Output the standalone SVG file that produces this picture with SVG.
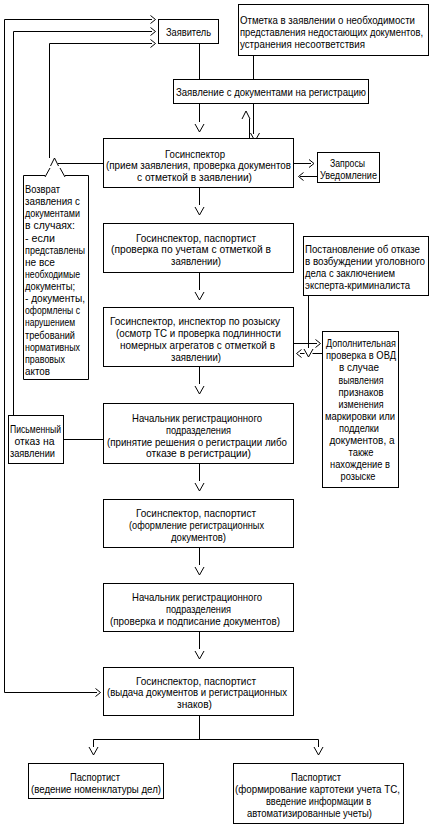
<svg xmlns="http://www.w3.org/2000/svg" xmlns:xlink="http://www.w3.org/1999/xlink" width="444" height="833" viewBox="0 0 444 833">
<style>
.b{fill:#fff;stroke:#000;stroke-width:1}
.c{fill:none;stroke:#000;stroke-width:1}
text{font-family:"Liberation Sans","DejaVu Sans",sans-serif;font-size:11px;fill:#000}
.m{text-anchor:middle}
.s{font-size:10.2px}
</style>
<defs>
<path id="ar" class="c" d="M-5,-4 L0,0 L-5,4"/>
<path id="al" class="c" d="M5,-4 L0,0 L5,4"/>
<path id="ad" class="c" d="M-4.5,-8 L0,0 L4.5,-8"/>
<path id="au" class="c" d="M-4,8 L0,0 L4,8"/>
</defs>
<rect width="444" height="833" fill="#fff"/>
<g id="connectors">
<path class="c" d="M4.5,692.5 V19.5 H152"/>
<path class="c" d="M13.5,415.5 V31.5 H152"/>
<path class="c" d="M49.5,158 V43.5 H152"/>
<path class="c" d="M4.5,692.5 H97"/>
<path class="c" d="M199.5,43.5 V79.5 M253.5,55.5 V79.5"/>
<path class="c" d="M199.5,103.5 V122 M253.5,103.5 V134 M249.5,119 V138.5"/>
<path class="c" d="M293.5,163.5 H311 M317.5,176.5 H300"/>
<path class="c" d="M103.5,163.5 H58"/>
<path class="c" d="M45,177 L50,168 M60,168 L65,177"/>
<path class="c" d="M199.5,187.5 V205 M199.5,272.5 V290 M199.5,366.5 V384 M199.5,463.5 V481 M199.5,547.5 V565 M199.5,631.5 V649"/>
<path class="c" d="M308.5,295.5 V348 M293.5,343.5 H317 M322.5,353.5 H312.5 M304.5,353.5 H300"/>
<path class="c" d="M63.5,439.5 H103.5"/>
<path class="c" d="M199.5,715.5 V739.5 M93.5,747 V739.5 H318.5 V747"/>
<use xlink:href="#ar" x="155.5" y="19.5"/>
<use xlink:href="#ar" x="155.5" y="31.5"/>
<use xlink:href="#ar" x="155.5" y="43.5"/>
<use xlink:href="#ar" x="100.5" y="692.5"/>
<use xlink:href="#ar" x="314" y="163.5"/>
<use xlink:href="#ar" x="320.5" y="343.5"/>
<use xlink:href="#al" x="298.5" y="176.5"/>
<use xlink:href="#al" x="296.5" y="353.5"/>
<use xlink:href="#ad" x="199.5" y="132"/>
<use xlink:href="#ad" x="255" y="141"/>
<use xlink:href="#ad" x="199.5" y="215"/>
<use xlink:href="#ad" x="199.5" y="300"/>
<use xlink:href="#ad" x="199.5" y="394"/>
<use xlink:href="#ad" x="199.5" y="491"/>
<use xlink:href="#ad" x="199.5" y="575"/>
<use xlink:href="#ad" x="199.5" y="659"/>
<use xlink:href="#ad" x="93.5" y="755"/>
<use xlink:href="#ad" x="318.5" y="755"/>
<use xlink:href="#ad" x="308.5" y="357"/>
<use xlink:href="#au" x="246" y="111"/>
<use xlink:href="#au" x="54.5" y="158"/>
</g>
<g id="n-zayavitel">
<rect class="b" x="158.5" y="19.5" width="60" height="24"/>
<text x="166" y="36" textLength="45" lengthAdjust="spacingAndGlyphs">Заявитель</text>
</g>
<g id="n-otmetka">
<rect class="b" x="238.5" y="4.5" width="190" height="51"/>
<text x="240" y="24" textLength="175" lengthAdjust="spacingAndGlyphs">Отметка в заявлении о необходимости</text>
<text class="s" x="240" y="36" textLength="183" lengthAdjust="spacingAndGlyphs">представления недостающих документов,</text>
<text x="240" y="48" textLength="125" lengthAdjust="spacingAndGlyphs">устранения несоответствия</text>
</g>
<g id="n-zayavlenie">
<rect class="b" x="173.5" y="79.5" width="195" height="24"/>
<text x="176" y="96" textLength="190" lengthAdjust="spacingAndGlyphs">Заявление с документами на регистрацию</text>
</g>
<g id="n-gos1">
<rect class="b" x="103.5" y="138.5" width="190" height="49"/>
<text x="165" y="157.5" textLength="60" lengthAdjust="spacingAndGlyphs">Госинспектор</text>
<text x="106" y="169" textLength="185" lengthAdjust="spacingAndGlyphs">(прием заявления, проверка документов</text>
<text x="137" y="180.5" textLength="115" lengthAdjust="spacingAndGlyphs">с отметкой в заявлении)</text>
</g>
<g id="n-zaprosy">
<rect class="b" x="317.5" y="152.5" width="62" height="30"/>
<text x="330" y="167" textLength="35" lengthAdjust="spacingAndGlyphs">Запросы</text>
<text x="320" y="179" textLength="57" lengthAdjust="spacingAndGlyphs">Уведомление</text>
</g>
<g id="n-vozvrat">
<path class="c" d="M45,175.5 H23.5 V379.5 H88.5 V175.5 H65"/>
<text x="25" y="193" textLength="35" lengthAdjust="spacingAndGlyphs">Возврат</text>
<text x="25" y="205.1" textLength="55" lengthAdjust="spacingAndGlyphs">заявления с</text>
<text x="25" y="217.3" textLength="55" lengthAdjust="spacingAndGlyphs">документами</text>
<text x="25" y="229.4" textLength="50" lengthAdjust="spacingAndGlyphs">в случаях:</text>
<text x="25" y="241.5" textLength="30" lengthAdjust="spacingAndGlyphs">- если</text>
<text x="25" y="253.7" textLength="60" lengthAdjust="spacingAndGlyphs">представлены</text>
<text x="25" y="265.8" textLength="30" lengthAdjust="spacingAndGlyphs">не все</text>
<text x="25" y="277.9" textLength="55" lengthAdjust="spacingAndGlyphs">необходимые</text>
<text x="25" y="290" textLength="50" lengthAdjust="spacingAndGlyphs">документы;</text>
<text x="25" y="302.2" textLength="60" lengthAdjust="spacingAndGlyphs">- документы,</text>
<text x="25" y="314.3" textLength="55" lengthAdjust="spacingAndGlyphs">оформлены с</text>
<text x="25" y="326.4" textLength="50" lengthAdjust="spacingAndGlyphs">нарушением</text>
<text x="25" y="338.6" textLength="50" lengthAdjust="spacingAndGlyphs">требований</text>
<text x="25" y="350.7" textLength="55" lengthAdjust="spacingAndGlyphs">нормативных</text>
<text x="25" y="362.8" textLength="40" lengthAdjust="spacingAndGlyphs">правовых</text>
<text x="25" y="375" textLength="25" lengthAdjust="spacingAndGlyphs">актов</text>
</g>
<g id="n-gos2">
<rect class="b" x="103.5" y="223.5" width="190" height="49"/>
<text x="136" y="241.5" textLength="120" lengthAdjust="spacingAndGlyphs">Госинспектор, паспортист</text>
<text x="111" y="253" textLength="160" lengthAdjust="spacingAndGlyphs">(проверка по учетам с отметкой в</text>
<text x="171" y="265" textLength="50" lengthAdjust="spacingAndGlyphs">заявлении)</text>
</g>
<g id="n-postanovlenie">
<rect class="b" x="303.5" y="236.5" width="125" height="59"/>
<text x="305" y="253" textLength="115" lengthAdjust="spacingAndGlyphs">Постановление об отказе</text>
<text x="305" y="265" textLength="120" lengthAdjust="spacingAndGlyphs">в возбуждении уголовного</text>
<text x="305" y="277" textLength="90" lengthAdjust="spacingAndGlyphs">дела с заключением</text>
<text x="305" y="289" textLength="105" lengthAdjust="spacingAndGlyphs">эксперта-криминалиста</text>
</g>
<g id="n-gos3">
<rect class="b" x="103.5" y="307.5" width="190" height="59"/>
<text x="110" y="325" textLength="170" lengthAdjust="spacingAndGlyphs">Госинспектор, инспектор по розыску</text>
<text x="116" y="337" textLength="165" lengthAdjust="spacingAndGlyphs">(осмотр ТС и проверка подлинности</text>
<text x="120" y="349" textLength="155" lengthAdjust="spacingAndGlyphs">номерных агрегатов с отметкой в</text>
<text x="171" y="361" textLength="50" lengthAdjust="spacingAndGlyphs">заявлении)</text>
</g>
<g id="n-dop">
<rect class="b" x="322.5" y="331.5" width="76" height="156"/>
<text class="m" x="361" y="347" textLength="70" lengthAdjust="spacingAndGlyphs">Дополнительная</text>
<text class="m" x="361" y="359" textLength="70" lengthAdjust="spacingAndGlyphs">проверка в ОВД</text>
<text class="m" x="359" y="371" textLength="40" lengthAdjust="spacingAndGlyphs">в случае</text>
<text class="m" x="361" y="383.5" textLength="45" lengthAdjust="spacingAndGlyphs">выявления</text>
<text class="m" x="361" y="395.5" textLength="45" lengthAdjust="spacingAndGlyphs">признаков</text>
<text class="m" x="361" y="407.5" textLength="45" lengthAdjust="spacingAndGlyphs">изменения</text>
<text class="m" x="360" y="419.5" textLength="70" lengthAdjust="spacingAndGlyphs">маркировки или</text>
<text class="m" x="359" y="431.5" textLength="40" lengthAdjust="spacingAndGlyphs">подделки</text>
<text class="m" x="362" y="444" textLength="65" lengthAdjust="spacingAndGlyphs">документов, а</text>
<text class="m" x="361" y="456" textLength="25" lengthAdjust="spacingAndGlyphs">также</text>
<text class="m" x="360" y="468" textLength="60" lengthAdjust="spacingAndGlyphs">нахождение в</text>
<text class="m" x="358" y="480" textLength="35" lengthAdjust="spacingAndGlyphs">розыске</text>
</g>
<g id="n-nach1">
<rect class="b" x="103.5" y="403.5" width="190" height="60"/>
<text x="132" y="421.5" textLength="130" lengthAdjust="spacingAndGlyphs">Начальник регистрационного</text>
<text x="166" y="433.5" textLength="65" lengthAdjust="spacingAndGlyphs">подразделения</text>
<text x="107" y="445.5" textLength="180" lengthAdjust="spacingAndGlyphs">(принятие решения о регистрации либо</text>
<text x="146" y="457" textLength="105" lengthAdjust="spacingAndGlyphs">отказе в регистрации)</text>
</g>
<g id="n-pismenny">
<rect class="b" x="8.5" y="415.5" width="55" height="48"/>
<text x="10" y="433" textLength="51" lengthAdjust="spacingAndGlyphs">Письменный</text>
<text x="14.5" y="445" textLength="40" lengthAdjust="spacingAndGlyphs">отказ на</text>
<text x="10" y="457" textLength="45" lengthAdjust="spacingAndGlyphs">заявлении</text>
</g>
<g id="n-gos4">
<rect class="b" x="103.5" y="499.5" width="190" height="48"/>
<text x="136" y="517" textLength="120" lengthAdjust="spacingAndGlyphs">Госинспектор, паспортист</text>
<text x="129" y="528.5" textLength="135" lengthAdjust="spacingAndGlyphs">(оформление регистрационных</text>
<text x="171" y="540.5" textLength="55" lengthAdjust="spacingAndGlyphs">документов)</text>
</g>
<g id="n-nach2">
<rect class="b" x="103.5" y="583.5" width="190" height="48"/>
<text x="132" y="601" textLength="130" lengthAdjust="spacingAndGlyphs">Начальник регистрационного</text>
<text x="166" y="613" textLength="65" lengthAdjust="spacingAndGlyphs">подразделения</text>
<text x="110" y="625" textLength="170" lengthAdjust="spacingAndGlyphs">(проверка и подписание документов)</text>
</g>
<g id="n-gos5">
<rect class="b" x="103.5" y="667.5" width="190" height="48"/>
<text x="136" y="684.5" textLength="120" lengthAdjust="spacingAndGlyphs">Госинспектор, паспортист</text>
<text x="107" y="696" textLength="180" lengthAdjust="spacingAndGlyphs">(выдача документов и регистрационных</text>
<text x="177" y="708" textLength="35" lengthAdjust="spacingAndGlyphs">знаков)</text>
</g>
<g id="n-pasp1">
<rect class="b" x="28.5" y="763.5" width="135" height="35"/>
<text x="70" y="781" textLength="50" lengthAdjust="spacingAndGlyphs">Паспортист</text>
<text x="31" y="792.5" textLength="130" lengthAdjust="spacingAndGlyphs">(ведение номенклатуры дел)</text>
</g>
<g id="n-pasp2">
<rect class="b" x="233.5" y="763.5" width="170" height="60"/>
<text x="291" y="781" textLength="50" lengthAdjust="spacingAndGlyphs">Паспортист</text>
<text x="235" y="793" textLength="165" lengthAdjust="spacingAndGlyphs">(формирование картотеки учета ТС,</text>
<text x="266" y="805" textLength="105" lengthAdjust="spacingAndGlyphs">введение информации в</text>
<text x="247" y="817" textLength="125" lengthAdjust="spacingAndGlyphs">автоматизированные учеты)</text>
</g>
</svg>
